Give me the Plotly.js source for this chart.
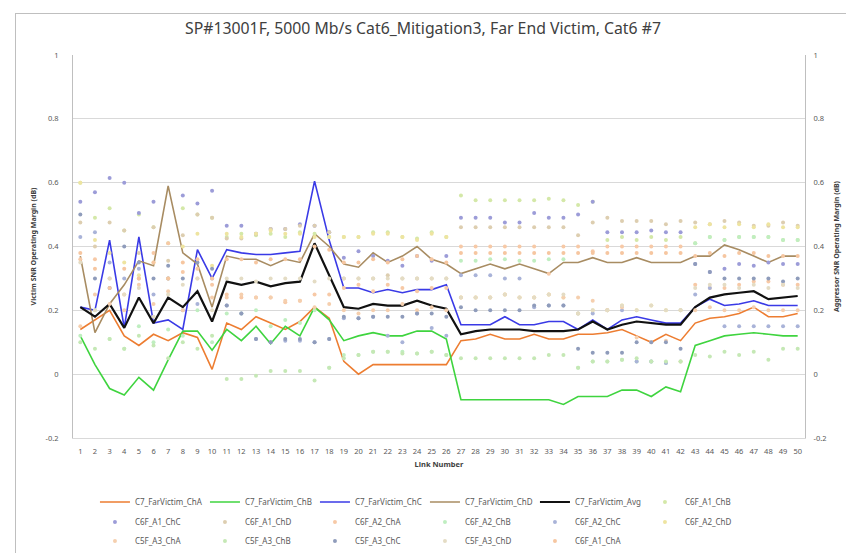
<!DOCTYPE html>
<html><head><meta charset="utf-8">
<script src="https://cdn.plot.ly/plotly-3.0.1.min.js"></script>
<style>
html,body{margin:0;padding:0;background:#fff;}
#wrap{position:relative;width:846px;height:553px;overflow:hidden;}
#chart{position:absolute;left:0;top:0;width:846px;height:553px;}
#frame{position:absolute;left:15px;top:13px;width:900px;height:600px;border-left:1px solid #bfbfbf;border-top:1px solid #bfbfbf;pointer-events:none;}
</style></head>
<body><div id="wrap"><div id="chart"></div><div id="frame"></div></div>
<script>
const links = Array.from({length:50},(_,i)=>i+1);
const tickText = links.map(String);
const yTicks = [-0.2,0,0.2,0.4,0.6,0.8,1];
const yTickText = ['-0.2','0','0.2','0.4','0.6','0.8','1'];

const C7_ChA = [0.14,0.17,0.20,0.12,0.09,0.125,0.105,0.13,0.115,0.015,0.16,0.14,0.18,0.16,0.14,0.165,0.21,0.175,0.04,0.0,0.03,0.03,0.03,0.03,0.03,0.03,0.105,0.11,0.125,0.11,0.11,0.125,0.11,0.11,0.125,0.125,0.13,0.14,0.12,0.10,0.125,0.105,0.16,0.175,0.18,0.19,0.21,0.18,0.18,0.19];
const C7_ChB = [0.12,0.03,-0.045,-0.065,-0.01,-0.05,0.045,0.135,0.135,0.075,0.14,0.105,0.15,0.095,0.15,0.12,0.21,0.17,0.105,0.12,0.13,0.12,0.12,0.135,0.135,0.11,-0.08,-0.08,-0.08,-0.08,-0.08,-0.08,-0.08,-0.095,-0.07,-0.07,-0.07,-0.05,-0.05,-0.07,-0.04,-0.055,0.09,0.105,0.12,0.125,0.13,0.125,0.12,0.12];
const C7_ChC = [0.21,0.20,0.42,0.145,0.43,0.16,0.17,0.14,0.39,0.30,0.39,0.38,0.375,0.375,0.38,0.385,0.605,0.42,0.27,0.27,0.255,0.265,0.255,0.265,0.265,0.28,0.155,0.155,0.155,0.18,0.155,0.155,0.165,0.165,0.14,0.17,0.14,0.17,0.18,0.17,0.16,0.16,0.21,0.235,0.215,0.22,0.23,0.215,0.215,0.215];
const C7_ChD = [0.37,0.13,0.22,0.28,0.355,0.34,0.59,0.38,0.345,0.21,0.37,0.36,0.36,0.34,0.36,0.35,0.44,0.40,0.345,0.335,0.38,0.35,0.37,0.40,0.36,0.345,0.315,0.33,0.345,0.33,0.345,0.33,0.315,0.35,0.35,0.365,0.35,0.35,0.365,0.35,0.35,0.35,0.37,0.37,0.405,0.39,0.37,0.35,0.37,0.37];
const C7_Avg = [0.21,0.18,0.22,0.145,0.24,0.16,0.24,0.21,0.26,0.165,0.29,0.28,0.29,0.275,0.285,0.29,0.41,0.31,0.21,0.205,0.22,0.215,0.215,0.23,0.215,0.205,0.125,0.135,0.14,0.14,0.14,0.135,0.135,0.135,0.14,0.165,0.14,0.155,0.165,0.16,0.155,0.155,0.21,0.24,0.25,0.255,0.26,0.235,0.24,0.245];

const C6F_A1_ChB = [0.60,0.49,0.52,0.45,0.50,0.46,0.41,0.52,0.50,0.49,0.43,0.44,0.435,0.44,0.43,0.445,0.44,0.43,0.43,0.43,0.445,0.445,0.43,0.425,0.445,0.43,0.56,0.545,0.545,0.545,0.545,0.545,0.55,0.545,0.53,0.54,0.42,0.43,0.42,0.43,0.42,0.43,0.41,0.43,0.42,0.43,0.43,0.43,0.42,0.42];
const C6F_A1_ChC = [0.54,0.57,0.615,0.60,0.505,0.54,0.30,0.56,0.535,0.575,0.465,0.465,0.44,0.455,0.455,0.47,0.465,0.445,0.365,0.385,0.37,0.355,0.34,0.37,0.355,0.37,0.49,0.49,0.49,0.475,0.475,0.505,0.49,0.49,0.50,0.54,0.445,0.445,0.445,0.45,0.445,0.445,0.345,0.32,0.33,0.345,0.34,0.35,0.345,0.345];
const C6F_A1_ChD = [0.475,0.40,0.475,0.45,0.38,0.46,0.355,0.435,0.50,0.49,0.425,0.425,0.44,0.455,0.455,0.465,0.465,0.445,0.30,0.30,0.30,0.31,0.30,0.30,0.30,0.30,0.46,0.46,0.46,0.46,0.46,0.46,0.46,0.46,0.435,0.475,0.49,0.48,0.48,0.48,0.47,0.48,0.475,0.47,0.48,0.475,0.465,0.465,0.475,0.465];
const C6F_A2_ChA = [0.36,0.36,0.30,0.25,0.30,0.38,0.41,0.32,0.33,0.28,0.25,0.24,0.24,0.24,0.225,0.23,0.25,0.25,0.27,0.28,0.26,0.28,0.27,0.26,0.27,0.27,0.40,0.40,0.40,0.40,0.40,0.40,0.315,0.40,0.40,0.385,0.40,0.40,0.40,0.40,0.40,0.40,0.28,0.27,0.27,0.28,0.29,0.29,0.28,0.28];
const C6F_A2_ChB = [0.12,0.20,0.11,0.08,0.15,0.10,0.14,0.12,0.20,0.10,0.19,0.19,0.20,0.15,0.17,0.16,0.20,0.02,0.06,0.06,0.07,0.07,0.07,0.065,0.07,0.06,0.355,0.355,0.36,0.36,0.355,0.355,0.36,0.36,0.02,0.04,0.04,0.045,0.04,0.04,0.035,0.04,0.41,0.43,0.42,0.43,0.43,0.43,0.42,0.42];
const C6F_A2_ChC = [0.43,0.445,0.35,0.30,0.33,0.25,0.30,0.20,0.22,0.30,0.215,0.19,0.11,0.10,0.105,0.105,0.10,0.11,0.175,0.175,0.18,0.12,0.10,0.19,0.145,0.12,0.31,0.31,0.31,0.30,0.30,0.21,0.215,0.215,0.19,0.19,0.20,0.20,0.04,0.04,0.035,0.20,0.25,0.27,0.15,0.15,0.15,0.15,0.15,0.15];
const C6F_A2_ChD = [0.60,0.42,0.38,0.35,0.31,0.35,0.30,0.40,0.44,0.34,0.44,0.43,0.44,0.45,0.44,0.44,0.43,0.43,0.43,0.43,0.44,0.44,0.43,0.42,0.44,0.43,0.24,0.24,0.24,0.25,0.24,0.24,0.25,0.24,0.19,0.20,0.20,0.215,0.20,0.215,0.20,0.20,0.46,0.47,0.46,0.47,0.46,0.47,0.46,0.46];
const C5F_A3_ChA = [0.15,0.25,0.22,0.20,0.28,0.22,0.26,0.20,0.30,0.24,0.24,0.25,0.24,0.24,0.23,0.23,0.21,0.22,0.20,0.19,0.20,0.20,0.22,0.20,0.21,0.20,0.24,0.24,0.24,0.25,0.24,0.24,0.25,0.24,0.24,0.23,0.20,0.21,0.115,0.10,0.105,0.04,0.20,0.21,0.20,0.20,0.21,0.20,0.20,0.20];
const C5F_A3_ChB = [0.10,0.08,0.11,0.08,0.12,0.09,0.05,0.10,0.08,0.12,-0.015,-0.015,-0.005,0.01,0.01,0.01,-0.02,0.02,0.05,0.06,0.07,0.07,0.065,0.065,0.07,0.06,0.05,0.05,0.05,0.05,0.05,0.05,0.06,0.06,0.02,0.04,0.04,0.045,0.05,0.04,0.04,0.04,0.06,0.055,0.07,0.06,0.07,0.045,0.08,0.08];
const C5F_A3_ChC = [0.50,0.30,0.27,0.40,0.35,0.30,0.34,0.30,0.35,0.33,0.215,0.19,0.11,0.10,0.11,0.11,0.10,0.11,0.18,0.175,0.18,0.18,0.18,0.19,0.19,0.18,0.21,0.20,0.20,0.20,0.20,0.215,0.215,0.215,0.08,0.067,0.067,0.067,0.10,0.10,0.10,0.08,0.345,0.32,0.30,0.30,0.30,0.30,0.29,0.30];
const C5F_A3_ChD = [0.35,0.20,0.30,0.25,0.27,0.18,0.25,0.28,0.30,0.20,0.30,0.30,0.29,0.30,0.30,0.30,0.29,0.30,0.30,0.30,0.30,0.30,0.30,0.30,0.30,0.30,0.24,0.24,0.24,0.25,0.24,0.24,0.25,0.25,0.19,0.20,0.20,0.215,0.20,0.215,0.20,0.20,0.27,0.28,0.28,0.27,0.28,0.27,0.28,0.27];
const C6F_A1_ChA = [0.38,0.33,0.27,0.33,0.30,0.35,0.30,0.35,0.36,0.30,0.36,0.36,0.35,0.36,0.36,0.36,0.40,0.39,0.35,0.35,0.36,0.35,0.36,0.37,0.36,0.35,0.38,0.38,0.38,0.38,0.38,0.38,0.38,0.38,0.38,0.38,0.38,0.38,0.38,0.38,0.38,0.38,0.37,0.38,0.37,0.38,0.38,0.37,0.37,0.37];

const lineSeries = [
  ['C7_FarVictim_ChA', C7_ChA, '#ED7D31', 1.6],
  ['C7_FarVictim_ChB', C7_ChB, '#3FD43F', 1.6],
  ['C7_FarVictim_ChC', C7_ChC, '#3A3AE6', 1.6],
  ['C7_FarVictim_ChD', C7_ChD, '#A88C62', 1.6],
  ['C7_FarVictim_Avg', C7_Avg, '#111111', 2.2]
];
const dotSeries = [
  ['C6F_A1_ChB', C6F_A1_ChB, '#d4e8a8', 'legend'],
  ['C6F_A1_ChC', C6F_A1_ChC, '#9c9cd8', 'legend2'],
  ['C6F_A1_ChD', C6F_A1_ChD, '#ddceb0', 'legend2'],
  ['C6F_A2_ChA', C6F_A2_ChA, '#f7c9a6', 'legend2'],
  ['C6F_A2_ChB', C6F_A2_ChB, '#bfeec0', 'legend2'],
  ['C6F_A2_ChC', C6F_A2_ChC, '#a9b3d8', 'legend2'],
  ['C6F_A2_ChD', C6F_A2_ChD, '#eee4a0', 'legend2'],
  ['C5F_A3_ChA', C5F_A3_ChA, '#f5cfae', 'legend3'],
  ['C5F_A3_ChB', C5F_A3_ChB, '#c5e8b5', 'legend3'],
  ['C5F_A3_ChC', C5F_A3_ChC, '#8f9cbb', 'legend3'],
  ['C5F_A3_ChD', C5F_A3_ChD, '#e4dcc4', 'legend3'],
  ['C6F_A1_ChA', C6F_A1_ChA, '#f6c6a0', 'legend3']
];

const traces = [];
lineSeries.forEach(s => traces.push({
  type:'scatter', mode:'lines', name:s[0], x:links, y:s[1],
  line:{color:s[2], width:s[3]}, legend:'legend', yaxis:'y'
}));
dotSeries.forEach(s => traces.push({
  type:'scatter', mode:'markers', name:s[0], x:links, y:s[1],
  marker:{color:s[2], size:4, symbol:'circle'}, legend:s[3], yaxis:'y2'
}));

const legBase = {orientation:'h', xanchor:'left', yanchor:'middle', x:0.03,
  font:{family:'Noto Sans', size:8, color:'#595959'}, entrywidth:65, itemwidth:30,
  bgcolor:'rgba(0,0,0,0)', tracegroupgap:0, traceorder:'normal'};

const layout = {
  width:846, height:553,
  margin:{l:73, r:41, t:55, b:115, autoexpand:false},
  paper_bgcolor:'#ffffff', plot_bgcolor:'#ffffff',
  font:{family:'Noto Sans', color:'#595959'},
  title:{text:'SP#13001F, 5000 Mb/s Cat6_Mitigation3, Far End Victim, Cat6 #7',
    font:{family:'Noto Sans', size:15.8, color:'#404040'}, x:0.5, xanchor:'center',
    y:1-28/553, yref:'container', yanchor:'middle'},
  xaxis:{range:[0.5,50.5], tickvals:links, ticktext:tickText, showgrid:false, zeroline:false,
    showline:true, linecolor:'#d9d9d9', ticks:'', tickfont:{size:7.5, color:'#595959'},
    ticklabelstandoff:6,
    title:{text:'Link Number', font:{size:7.5, color:'#404040', weight:'bold'}, standoff:6}},
  yaxis:{range:[-0.2,1], tickvals:yTicks, ticktext:yTickText, showgrid:true, gridcolor:'#d9d9d9',
    zeroline:false, showline:true, linecolor:'#bfbfbf', ticks:'', tickfont:{size:7.5, color:'#595959'},
    ticklabelstandoff:12,
    title:{text:'Victim SNR Operating Margin (dB)', font:{size:7, color:'#404040', weight:'bold'}, standoff:8}},
  yaxis2:{range:[-0.2,1], tickvals:yTicks, ticktext:yTickText, overlaying:'y', side:'right', showgrid:false,
    zeroline:false, showline:true, linecolor:'#bfbfbf', ticks:'', tickfont:{size:7.5, color:'#595959'},
    ticklabelstandoff:6,
    title:{text:'Aggressor SNR Operating Margin (dB)', font:{size:7, color:'#404040', weight:'bold'}, standoff:8}},
  legend:Object.assign({}, legBase, {y:(438-502)/383}),
  legend2:Object.assign({}, legBase, {y:(438-522)/383}),
  legend3:Object.assign({}, legBase, {y:(438-541)/383}),
  showlegend:true
};

Plotly.newPlot('chart', traces, layout, {staticPlot:true, displayModeBar:false});
</script></body></html>
